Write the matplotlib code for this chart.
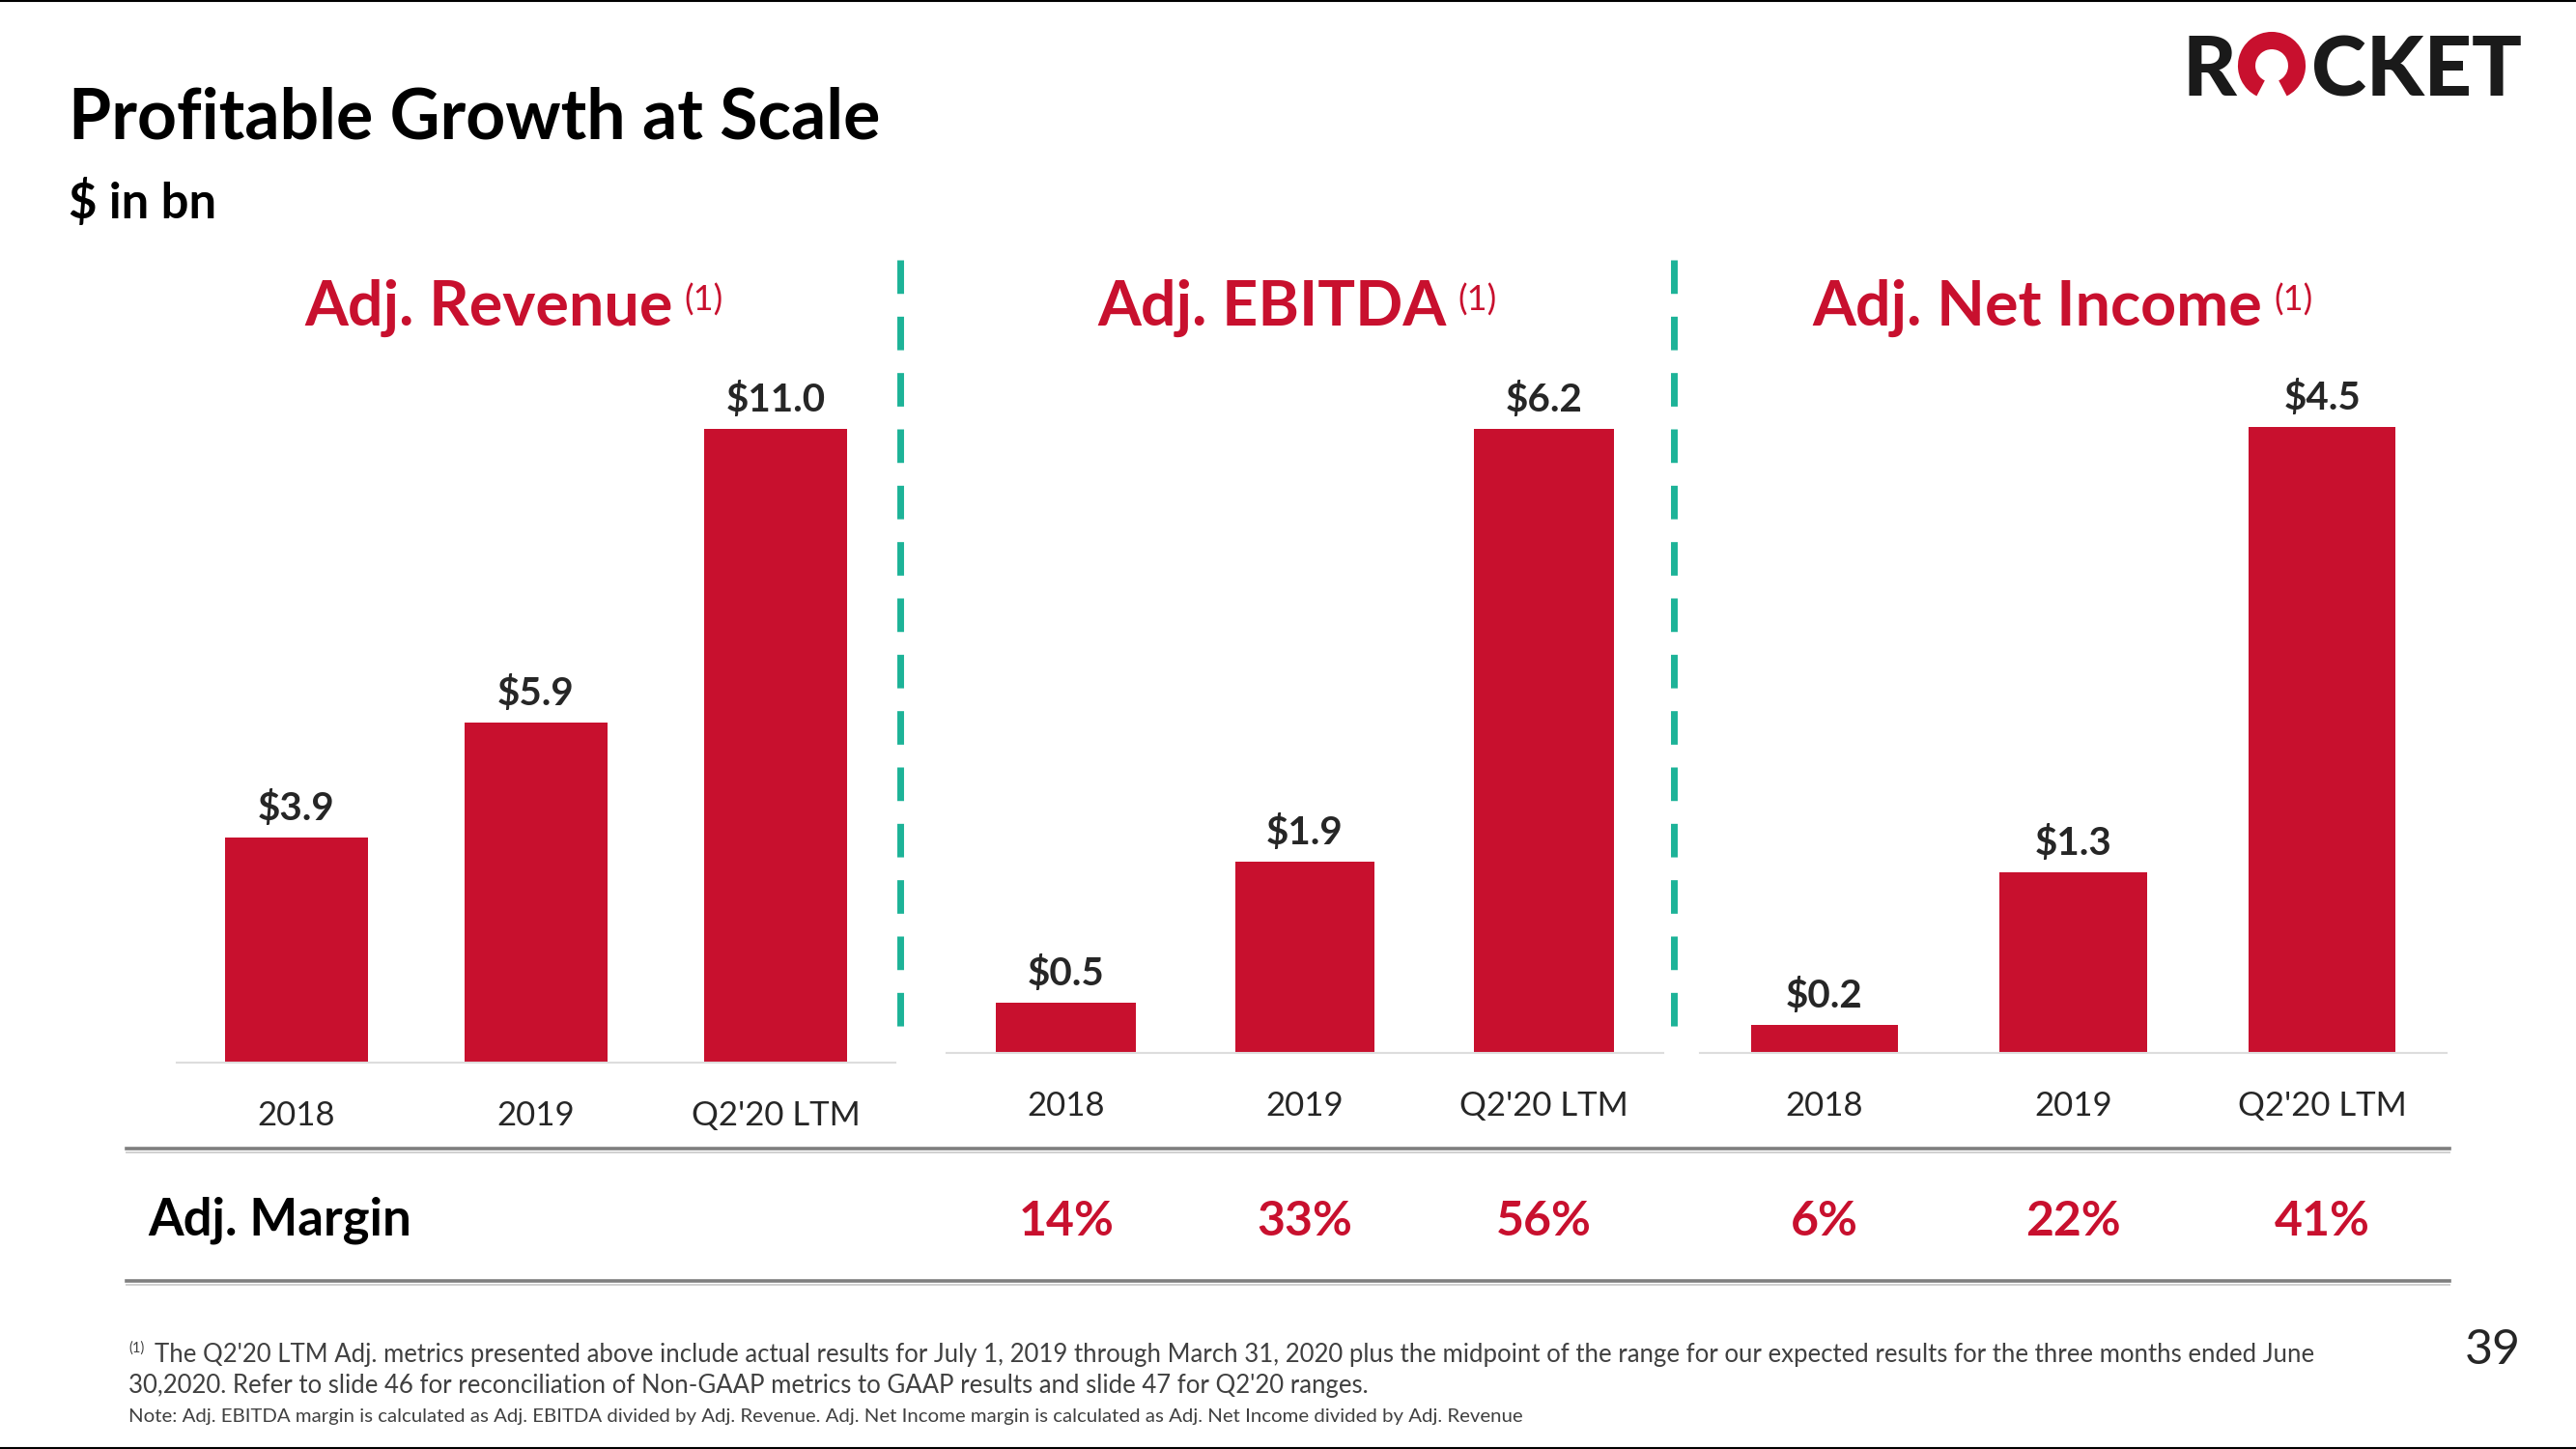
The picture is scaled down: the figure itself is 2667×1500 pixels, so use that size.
import matplotlib
matplotlib.use('Agg')
import matplotlib.pyplot as plt
import matplotlib.transforms as mtransforms
from matplotlib.lines import Line2D
from matplotlib.patches import Arc

W, H, DPI = 2667, 1500, 100

categories = ['2018', '2019', "Q2'20 LTM"]
revenue = [3.9, 5.9, 11.0]
ebitda = [0.5, 1.9, 6.2]
net_income = [0.2, 1.3, 4.5]
ebitda_margin = ['14%', '33%', '56%']
net_income_margin = ['6%', '22%', '41%']
panel_titles = ['Adj. Revenue', 'Adj. EBITDA', 'Adj. Net Income']

footnote_1 = ("The Q2'20 LTM Adj. metrics presented above include actual results for July 1, 2019 "
              "through March 31, 2020 plus the midpoint of the range for our expected results for "
              "the three months ended June")
footnote_2 = ("30,2020. Refer to slide 46 for reconciliation of Non-GAAP metrics to GAAP results "
              "and slide 47 for Q2'20 ranges.")
footnote_3 = ("Note: Adj. EBITDA margin is calculated as Adj. EBITDA divided by Adj. Revenue. "
              "Adj. Net Income margin is calculated as Adj. Net Income divided by Adj. Revenue")

RED = '#C8102E'
TEAL = '#1DB398'
DARK = '#262626'

plt.rcParams['font.family'] = ['Lato', 'DejaVu Sans']
plt.rcParams['lines.scale_dashes'] = False

fig = plt.figure(figsize=(W / DPI, H / DPI), dpi=DPI)


def fx(x):
    return x / W


def fy(y):
    return 1 - y / H


def bar_panel(box, values, bar_width):
    left, top, right, bottom = box
    ax = fig.add_axes([fx(left), fy(bottom), (right - left) / W, (bottom - top) / H])
    xs = range(len(values))
    ax.bar(xs, values, width=bar_width, color=RED)
    ax.set_xlim(-0.5, len(values) - 0.5)
    ax.set_ylim(0, max(values))
    ax.set_xticks([])
    ax.set_yticks([])
    for s in ['top', 'right', 'left']:
        ax.spines[s].set_visible(False)
    ax.spines['bottom'].set_color('#DDDDDD')
    ax.spines['bottom'].set_linewidth(1.5)
    ax.patch.set_alpha(0)
    for i, v in enumerate(values):
        ax.annotate(f'${v:.1f}', (i, v), xytext=(0, 13), textcoords='offset points',
                    ha='center', va='baseline', fontsize=29, fontweight='bold',
                    color=DARK, annotation_clip=False)
    below = mtransforms.offset_copy(ax.transData, fig=fig, x=0, y=-65, units='dots')
    for i, c in enumerate(categories):
        ax.text(i, 0, c, transform=below, ha='center', va='baseline', fontsize=25, color=DARK)
    return ax


ax1 = bar_panel((183, 444, 927, 1100), revenue, 0.6)
ax2 = bar_panel((980, 444, 1722, 1090), ebitda, 0.585)
ax3 = bar_panel((1760, 442, 2533, 1090), net_income, 0.59)

# panel headers with the (1) marker
for ax, title, x in zip((ax1, ax2, ax3), panel_titles, (315, 1136, 1876)):
    t = fig.text(fx(x), fy(337), title, ha='left', va='baseline', fontsize=46.5,
                 fontweight='bold', color=RED)
    ax.annotate('(1)', xy=(1, 1), xycoords=t, xytext=(9, -3), textcoords='offset points',
                ha='left', va='top', fontsize=26, color=RED, annotation_clip=False)

# margin row
fig.text(fx(153), fy(1279), 'Adj. Margin', fontsize=38, fontweight='bold', color='black',
         va='baseline')
for ax, margins in ((ax2, ebitda_margin), (ax3, net_income_margin)):
    tr = mtransforms.blended_transform_factory(ax.transData, fig.transFigure)
    for i, m in enumerate(margins):
        ax.text(i, fy(1279), m, transform=tr, ha='center', va='baseline', fontsize=36,
                fontweight='bold', color=RED)

for y in (1189, 1326):
    fig.add_artist(Line2D([fx(131), fx(2536)], [fy(y), fy(y)], color='#7F7F7F', lw=2.6))
    fig.add_artist(Line2D([fx(131), fx(2536)], [fy(y + 3.5), fy(y + 3.5)], color='#D0D0D0', lw=1.4))

# dashed dividers between panels
for x in (932, 1733):
    fig.add_artist(Line2D([fx(x), fx(x)], [fy(269), fy(1063)], color=TEAL, lw=5,
                          dashes=(25, 17)))

# titles
fig.text(fx(71), fy(143), 'Profitable Growth at Scale', fontsize=51.5, fontweight='bold',
         color='black', va='baseline')
fig.text(fx(71), fy(226), '$ in bn', fontsize=36.5, fontweight='bold', color='black',
         va='baseline')

# logo
logo_kw = dict(fontsize=62, fontweight='black', color='#1A1A1A', va='baseline', ha='left')
fig.text(fx(2260), fy(99), 'R', **logo_kw)
fig.text(fx(2393), fy(99), 'CKET', **logo_kw)
fig.add_artist(Arc((2352 / DPI, (H - 68) / DPI), 0.52, 0.52, theta1=296, theta2=244,
                   transform=fig.dpi_scale_trans, color=RED, lw=13))

# footnotes
foot_kw = dict(color='#404040', va='baseline', ha='left')
fig.text(fx(133), fy(1400), '(1)', fontsize=10.5, **foot_kw)
fig.text(fx(160), fy(1410), footnote_1, fontsize=18.5, **foot_kw)
fig.text(fx(133), fy(1442), footnote_2, fontsize=18.5, **foot_kw)
fig.text(fx(133), fy(1472), footnote_3, fontsize=14.7, **foot_kw)

fig.text(fx(2552), fy(1412), '39', fontsize=36, color=DARK, va='baseline')

# slide frame
fig.add_artist(Line2D([0, 1], [fy(1), fy(1)], color='black', lw=1.5))
fig.add_artist(Line2D([0, 1], [fy(1498.5), fy(1498.5)], color='black', lw=1.5))

fig.savefig('out.png', dpi=DPI)
